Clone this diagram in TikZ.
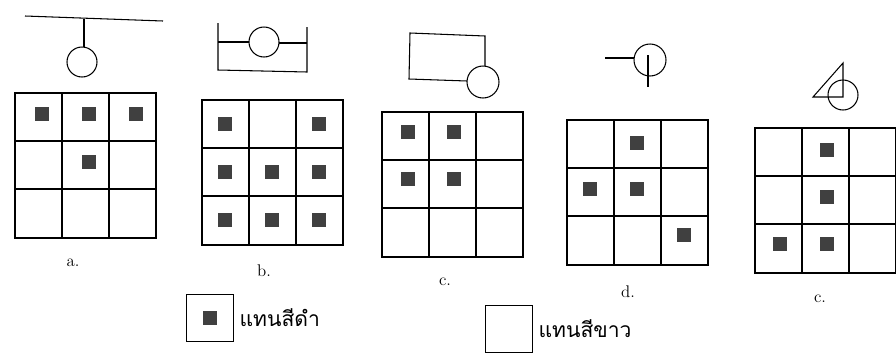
\documentclass[tikz,border=0pt]{standalone}
\usepackage{fontspec}
\newfontfamily\thaifont[Script=Thai]{Loma}
\tikzset{
  rejilla/.style={line width=1.4pt},
  figura/.style={line width=0.9pt},
  negro/.style={fill=black!75, inner sep=0pt, minimum width=0.4cm, minimum height=0.44cm},
  caja/.style={draw, line width=1.4pt, minimum width=1.41cm, minimum height=1.41cm},
  etiqueta/.style={font=\Large},
  leyenda/.style={anchor=west, font=\thaifont\fontsize{18}{20}\selectfont},
}
\begin{document}
\begin{tikzpicture}[x=0.03cm, y=-0.03cm]
  \useasboundingbox (0,0) rectangle (896,353);
  % Rejillas 3x3
  \foreach \x/\y in {15/93, 202/100, 382/112, 567/120, 755/128} {
    \draw[rejilla] (\x,\y) rectangle ++(141,145);
    \draw[rejilla] (\x+47,\y) -- ++(0,145) (\x+94,\y) -- ++(0,145)
                   (\x,\y+48) -- ++(141,0) (\x,\y+96) -- ++(141,0);
  }
  % Cuadros negros (fila/columna)
  \foreach \f/\c in {0/0, 0/1, 0/2, 1/1}
    \node[negro] (a\f\c) at (42+47*\c, 114+48*\f) {};
  \foreach \f/\c in {0/0, 0/2, 1/0, 1/1, 1/2, 2/0, 2/1, 2/2}
    \node[negro] (b\f\c) at (225+47*\c, 124+48*\f) {};
  \foreach \f/\c in {0/0, 0/1, 1/0, 1/1}
    \node[negro] (c\f\c) at (408+46*\c, 132+47*\f) {};
  \foreach \f/\c in {0/1, 1/0, 1/1, 2/2}
    \node[negro] (d\f\c) at (590+47*\c, 143+46*\f) {};
  \foreach \f/\c in {0/1, 1/1, 2/0, 2/1}
    \node[negro] (e\f\c) at (780+47*\c, 150+47*\f) {};
  % Letras
  \node[etiqueta] (la) at (73,263) {a.};
  \node[etiqueta] (lb) at (264,271) {b.};
  \node[etiqueta] (lc) at (445,282) {c.};
  \node[etiqueta] (ld) at (628,292) {d.};
  \node[etiqueta] (le) at (820,299) {c.};
  % Figuras de arriba
  \draw[figura] (25,16) -- (163,21);
  \draw[figura] (84,19) -- (84,47);
  \draw[figura] (82,62) circle (15);
  \draw[figura] (218,23) -- (218,70) -- (307,72) -- (307,27);
  \draw[figura] (218,42) -- (249,42) (279,43) -- (307,43);
  \draw[figura] (264,42) circle (15);
  \draw[figura] (485,66) -- (485,36) -- (410,33) -- (409,79) -- (467,81);
  \draw[figura] (483,82) circle (16);
  \draw[figura] (605,58) -- (634,58) (648,55) -- (648,87);
  \draw[figura] (650,60) circle (16);
  \draw[figura] (813,97) -- (843,63) -- (843,97) -- cycle;
  \draw[figura] (843,95) circle (15);
  % Leyenda
  \node[caja] (cajanegra) at (210,318) {};
  \node[negro] (muestra) at (cajanegra) {};
  \node[leyenda] (tnegro) at ([xshift=1pt]cajanegra.east) {แทนสีดำ};
  \node[caja] (cajablanca) at (509,329) {};
  \node[leyenda] (tblanco) at ([xshift=1pt]cajablanca.east) {แทนสีขาว};
\end{tikzpicture}
\end{document}
